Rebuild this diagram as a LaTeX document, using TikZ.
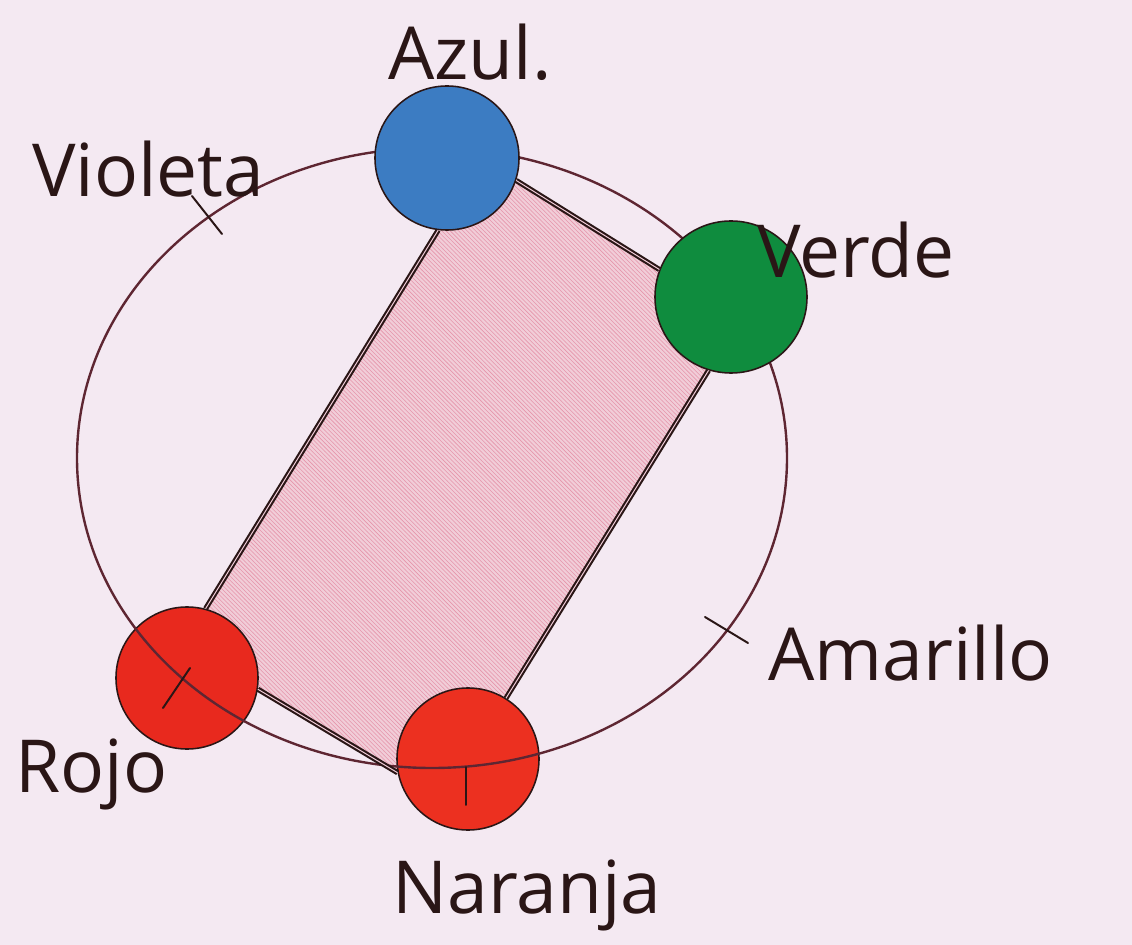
\documentclass[tikz,border=0pt]{standalone}
\usepackage{fontspec}
\setmainfont{Open Sans}
\usepackage{xcolor}
\usetikzlibrary{patterns}
\definecolor{PaperTint}{HTML}{F4E9F2}
\definecolor{InkDark}{HTML}{2A1616}
\definecolor{RingBrown}{HTML}{5E2632}
\definecolor{WashPink}{HTML}{F1CDD8}
\definecolor{HatchPink}{HTML}{E596AB}
\definecolor{DotBlue}{HTML}{3C7CC2}
\definecolor{DotGreen}{HTML}{0F8C3E}
\definecolor{DotRed}{HTML}{E8291E}
\definecolor{DotOrange}{HTML}{EC3020}
\pgfdeclarelayer{paper}
\pgfdeclarelayer{wash}
\pgfsetlayers{paper,wash,main}

\begin{document}
\begin{tikzpicture}[
    x=0.025cm, y=-0.025cm,
    dot/.style={circle, draw=InkDark, line width=1.1pt, inner sep=0pt, minimum size=3.6cm},
    side/.style={draw=InkDark, line width=1.5pt, double=WashPink, double distance=0.7pt},
    ring/.style={draw=RingBrown, line width=1.7pt},
    tick/.style={draw=InkDark, line width=1.4pt, line cap=round},
    tag/.style={anchor=base west, inner sep=0pt, text=InkDark, font=\fontsize{52}{60}\selectfont}
  ]
    \begin{pgfonlayer}{paper}
      \fill[PaperTint] (0,0) rectangle (1132,945);
    \end{pgfonlayer}
    \useasboundingbox (0,0) rectangle (1132,945);

    % red dots sit under the ring
    \node[dot, fill=DotRed, minimum size=3.55cm] (rojo) at (187,678) {};
    \node[dot, fill=DotOrange, minimum size=3.55cm] (naranja) at (468,759) {};

    \draw[ring] (432,458) ellipse [x radius=355, y radius=310];

    % marks on the ring
    \draw[tick] (192,196) -- (222,234);
    \draw[tick] (705,617) -- (748,643);
    \draw[tick] (190,668) -- (163,708);
    \draw[tick] (466,767) -- (466,805);

    \node[dot, fill=DotBlue] (azul) at (447,158) {};
    \node[dot, fill=DotGreen, minimum size=3.8cm] (verde) at (731,297) {};

    \draw[side] (azul.342) -- (verde.159);
    \draw[side] (verde.253) -- (naranja.58);
    \draw[side] (naranja.191) -- (rojo.351);
    \draw[side] (rojo.75) -- (azul.263);

    \begin{pgfonlayer}{wash}
      \fill[WashPink, postaction={pattern=north west lines, pattern color=HatchPink}]
        (azul.263) -- (azul.342) -- (verde.159) -- (verde.253)
        -- (naranja.58) -- (naranja.191) -- (rojo.351) -- (rojo.75) -- cycle;
    \end{pgfonlayer}

    \node[tag] (azultag) at (388,80) {Azul.};
    \node[tag] (violetatag) at (32,197) {Violeta};
    \node[tag] (verdetag) at (757,278) {Verde};
    \node[tag] (amarillotag) at (768,680) {Amarillo};
    \node[tag] (rojotag) at (15,792) {Rojo};
    \node[tag] (naranjatag) at (392,913) {Naranja};
\end{tikzpicture}
\end{document}
